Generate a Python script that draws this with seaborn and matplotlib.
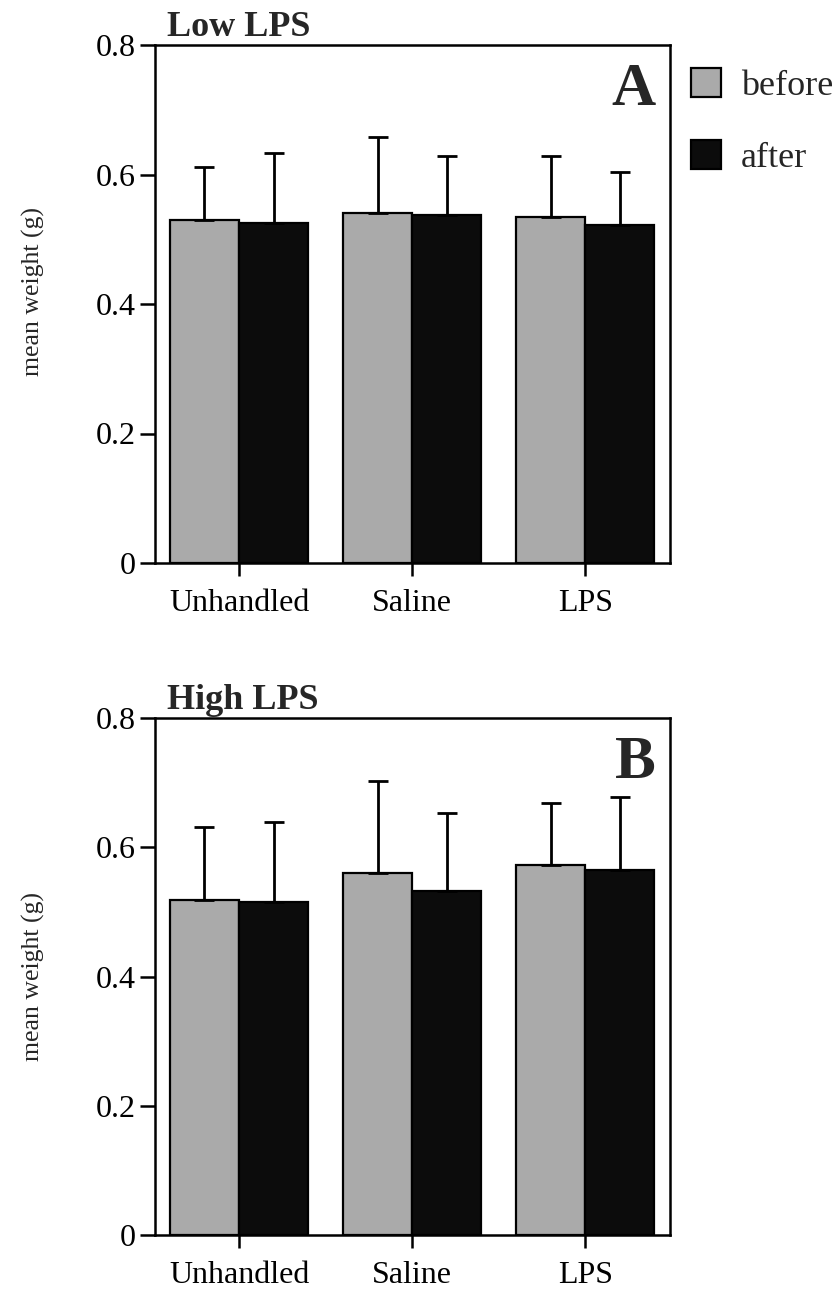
import numpy as np
import pandas as pd
import matplotlib
matplotlib.use("Agg")
import matplotlib.pyplot as plt
import seaborn as sns

# ---- data ----
categories = ["Unhandled", "Saline", "LPS"]
times = ["before", "after"]

low_before = [0.530, 0.541, 0.534]
low_after = [0.525, 0.537, 0.522]
low_err_before = [0.082, 0.117, 0.095]
low_err_after = [0.108, 0.092, 0.082]

high_before = [0.519, 0.560, 0.573]
high_after = [0.515, 0.532, 0.565]
high_err_before = [0.113, 0.143, 0.096]
high_err_after = [0.124, 0.121, 0.113]

yticks = [0, 0.2, 0.4, 0.6, 0.8]
ytick_labels = ["0", "0.2", "0.4", "0.6", "0.8"]

panel_titles = ["Low LPS", "High LPS"]
panel_letters = ["A", "B"]
ylabel = "mean weight (g)"

colors = {"before": "#aaaaaa", "after": "#0c0c0c"}

sns.set_theme(style="white")
plt.rcParams["font.family"] = ["Liberation Serif", "DejaVu Serif"]
plt.rcParams["axes.edgecolor"] = "black"
plt.rcParams["axes.linewidth"] = 1.8


def make_df(before, after, eb, ea):
    rows = []
    for c, b, a, e1, e2 in zip(categories, before, after, eb, ea):
        rows.append({"group": c, "time": "before", "value": b, "err": e1})
        rows.append({"group": c, "time": "after", "value": a, "err": e2})
    return pd.DataFrame(rows)


dfs = [
    make_df(low_before, low_after, low_err_before, low_err_after),
    make_df(high_before, high_after, high_err_before, high_err_after),
]

fig = plt.figure(figsize=(8.36, 12.91), dpi=100)
ax_pos = [
    [155 / 836, 1 - 563 / 1291, 515 / 836, 518 / 1291],
    [155 / 836, 1 - 1235 / 1291, 515 / 836, 517 / 1291],
]
ylabel_y = [0.525, 0.50]

for i, df in enumerate(dfs):
    ax = fig.add_axes(ax_pos[i])
    sns.barplot(
        data=df, x="group", y="value", hue="time", order=categories,
        hue_order=times, palette=colors, errorbar=None, width=0.8,
        edgecolor="black", linewidth=1.6, saturation=1, ax=ax,
        legend=(i == 0),
    )
    # upward-only error bars
    for cont, t in zip(ax.containers, times):
        sub = df[df["time"] == t].set_index("group").loc[categories]
        xs = [bar.get_x() + bar.get_width() / 2 for bar in cont]
        hs = [bar.get_height() for bar in cont]
        errs = sub["err"].values
        ax.errorbar(xs, hs, yerr=[np.zeros(len(errs)), errs], fmt="none",
                    ecolor="black", elinewidth=2.0, capsize=7, capthick=2.0,
                    zorder=5)

    ax.set_xlim(-0.486, 2.49)
    ax.set_ylim(0, 0.8)
    ax.set_yticks(yticks)
    ax.set_yticklabels(ytick_labels)
    ax.set_xlabel("")
    ax.set_ylabel(ylabel, fontsize=18.5)
    ax.yaxis.set_label_coords(-0.213, ylabel_y[i])
    ax.tick_params(axis="both", direction="out", width=1.8,
                   color="black", labelsize=23, labelcolor="black")
    ax.tick_params(axis="y", length=10.5, pad=3.5)
    ax.tick_params(axis="x", length=9.5, pad=9.5)
    ax.tick_params(left=True, bottom=True)
    for s in ax.spines.values():
        s.set_visible(True)
        s.set_color("black")
        s.set_linewidth(1.8)

    ax.text(0.023, 1.017, panel_titles[i], transform=ax.transAxes,
            ha="left", va="baseline", fontsize=26, fontweight="bold")
    ax.text(0.972, 0.884, panel_letters[i], transform=ax.transAxes,
            ha="right", va="baseline", fontsize=44, fontweight="bold")

    if i == 0:
        sns.move_legend(ax, loc="upper left", bbox_to_anchor=(1.04, 0.955),
                        frameon=False, title=None, fontsize=26,
                        handlelength=0.83, handleheight=0.83,
                        handletextpad=0.56, labelspacing=1.03,
                        borderpad=0, borderaxespad=0)

fig.savefig("out.png", dpi=100)
